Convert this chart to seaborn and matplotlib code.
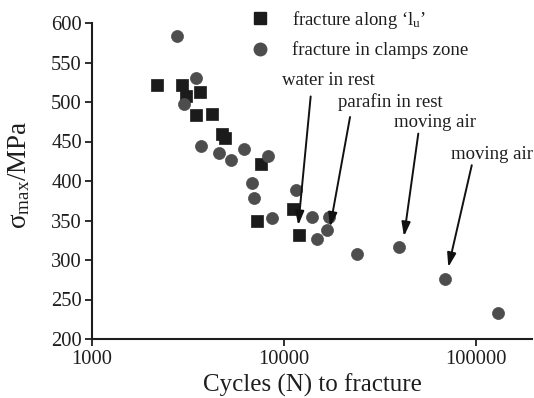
import numpy as np
import pandas as pd
import matplotlib
matplotlib.use("Agg")
import matplotlib.pyplot as plt
import seaborn as sns
from matplotlib.lines import Line2D

# ---- data ----
sq_cycles = [2190, 2930, 3090, 3650, 3480, 4220, 4740, 4950, 7570, 7210, 11200, 12000]
sq_stress = [522, 522, 507, 513, 484, 485, 459, 455, 421, 349, 364, 332]

ci_cycles = [2760, 3490, 3010, 3710, 4600, 5300, 6170, 8300, 6850, 6940, 11550,
             8690, 14000, 17200, 16800, 14900, 24000, 39900, 69200, 130000]
ci_stress = [583, 531, 497, 444, 435, 427, 440, 432, 398, 379, 388,
             353, 354, 354, 338, 326, 308, 316, 276, 233]

series_labels = ["fracture along \u2018$\\mathrm{l_u}$\u2019", "fracture in clamps zone"]

ann_texts = ["water in rest", "parafin in rest", "moving air", "moving air"]
ann_text_xy = [(17140, 527), (35660, 500), (60800, 474), (121100, 433)]
ann_start_xy = [(13770, 507), (22080, 481), (50060, 460), (95060, 420)]
ann_tip_xy = [(11870, 344), (17380, 342), (42170, 330), (71770, 291)]

y_ticks = [200, 250, 300, 350, 400, 450, 500, 550, 600]
x_ticks = [1000, 10000, 100000]
x_ticklabels = ["1000", "10000", "100000"]

# ---- build frame ----
df = pd.DataFrame({
    "cycles": sq_cycles + ci_cycles,
    "stress": sq_stress + ci_stress,
    "mode": [series_labels[0]] * len(sq_cycles) + [series_labels[1]] * len(ci_cycles),
})

sns.set_theme(style="ticks")
plt.rcParams["font.family"] = ["Liberation Serif", "DejaVu Serif"]
plt.rcParams["mathtext.fontset"] = "custom"
plt.rcParams["mathtext.rm"] = "Liberation Serif"
plt.rcParams["mathtext.it"] = "Liberation Serif:italic"

fig = plt.figure(figsize=(5.34, 3.98), dpi=100)
ax = fig.add_axes([92 / 534, 1 - 339 / 398, 440 / 534, 316 / 398])

colors = {series_labels[0]: "#1b1b1b", series_labels[1]: "#4d4d4d"}
markers = {series_labels[0]: "s", series_labels[1]: "o"}

for lab in series_labels:
    sub = df[df["mode"] == lab]
    sns.scatterplot(data=sub, x="cycles", y="stress", ax=ax, color=colors[lab],
                    marker=markers[lab], s=75 if lab == series_labels[1] else 68,
                    edgecolor=colors[lab], linewidth=0.5, legend=False, zorder=3)

ax.set_xscale("log")
ax.set_xlim(1000, 10 ** 5.2917)
ax.set_ylim(200, 600)
ax.set_xticks(x_ticks)
ax.set_xticklabels(x_ticklabels)
ax.xaxis.set_minor_locator(matplotlib.ticker.NullLocator())
ax.set_yticks(y_ticks)

for s in ["top", "right"]:
    ax.spines[s].set_visible(False)
for s in ["left", "bottom"]:
    ax.spines[s].set_linewidth(1.5)
    ax.spines[s].set_color("#1e1e1e")
ax.tick_params(axis="both", direction="out", length=5.2, width=1.3, colors="#1e1e1e",
               labelsize=14.8, labelcolor="#1e1e1e")
ax.tick_params(axis="x", pad=3)
ax.tick_params(axis="y", pad=2)

ax.set_xlabel("Cycles (N) to fracture", fontsize=18, color="#1e1e1e", labelpad=3)
ax.set_ylabel("$\\mathrm{\u03c3_{max}}$/MPa", fontsize=19.5, color="#1e1e1e")
ax.yaxis.set_label_coords(-0.135, 0.52)

# annotations
for t, txy, sxy, pxy in zip(ann_texts, ann_text_xy, ann_start_xy, ann_tip_xy):
    ax.text(txy[0], txy[1], t, ha="center", va="center", fontsize=13.5, color="#1e1e1e")
    ax.annotate("", xy=pxy, xytext=sxy,
                arrowprops=dict(arrowstyle="-|>,head_length=0.7,head_width=0.22",
                                color="#111111", lw=1.4, shrinkA=0, shrinkB=0))

handles = [
    Line2D([], [], linestyle="none", marker="s", markersize=8, color=colors[series_labels[0]]),
    Line2D([], [], linestyle="none", marker="o", markersize=9, color=colors[series_labels[1]]),
]
ax.legend(handles, series_labels, loc="upper left", bbox_to_anchor=(251 / 534, 1 - 9 / 398),
          bbox_transform=fig.transFigure, frameon=False, fontsize=13.5, borderpad=0,
          borderaxespad=0, handlelength=1.0, handletextpad=1.2, labelspacing=0.55,
          labelcolor="#1e1e1e")

fig.savefig("out.png", dpi=100)
